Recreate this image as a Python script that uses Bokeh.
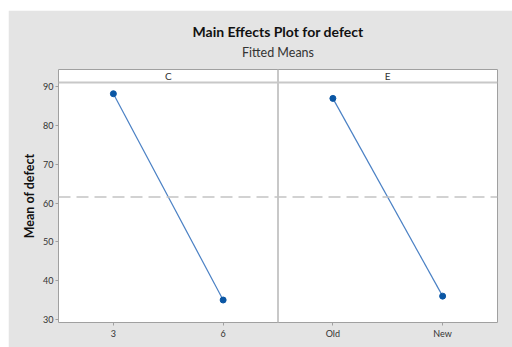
from bokeh.plotting import figure
from bokeh.layouts import column, row
from bokeh.models import FixedTicker, Label, Span, Spacer, Title
from bokeh.embed import file_html
from bokeh.resources import INLINE

# ---- data ----
factors = ["C", "E"]
levels_C = ["3", "6"]
means_C = [88.2, 35.0]
levels_E = ["Old", "New"]
means_E = [87.0, 36.0]
grand_mean = 61.55
y_ticks = [30, 40, 50, 60, 70, 80, 90]

FONT = "Lato"
BG = "#e4e4e4"

p = figure(frame_width=439, frame_height=253, output_backend="svg", toolbar_location=None,
           x_range=(0.5, 4.5), y_range=(29.2, 94.45), title=None,
           min_border_left=50, min_border_right=15, min_border_top=59, min_border_bottom=25)
p.background_fill_color = "white"
p.border_fill_color = BG
p.outline_line_color = "#a0a0a0"
p.grid.visible = False

panels = [(levels_C, means_C), (levels_E, means_E)]
tick_pos = []
overrides = {}
for i, (levs, ms) in enumerate(panels):
    xs = [1 + 2 * i + j for j in range(len(levs))]
    for x, lab in zip(xs, levs):
        tick_pos.append(x)
        overrides[x] = lab
    p.line(xs, ms, line_color="#4a80c4", line_width=1.2)
    p.scatter(xs, ms, size=6, color="#0a56a4")
    p.add_layout(Label(x=1.5 + 2 * i, y=92.8, text=factors[i], text_align="center",
                       text_baseline="middle", text_font=FONT, text_font_size="10px",
                       text_color="#333333"))

# panel divider and strip line
p.add_layout(Span(location=2.5, dimension="height", line_color="#c8c8c8", line_width=2))
p.add_layout(Span(location=91.1, dimension="width", line_color="#c8c8c8", line_width=2))
# grand mean reference line
p.add_layout(Span(location=grand_mean, dimension="width", line_color="#c4c4c4",
                  line_width=1.5, line_dash="12 6"))

p.xaxis.ticker = FixedTicker(ticks=tick_pos)
p.xaxis.major_label_overrides = overrides
p.yaxis.ticker = FixedTicker(ticks=y_ticks)
for ax in [p.xaxis[0], p.yaxis[0]]:
    ax.axis_line_color = None
    ax.major_tick_line_color = "#a0a0a0"
    ax.major_tick_out = 3
    ax.major_tick_in = 0
    ax.minor_tick_line_color = None
    ax.major_label_text_font = FONT
    ax.major_label_text_font_size = "9px"
    ax.major_label_text_color = "#333333"
    ax.major_label_standoff = 2

p.yaxis.axis_label = "Mean of defect"
p.yaxis.axis_label_text_font = FONT
p.yaxis.axis_label_text_font_size = "12.5px"
p.yaxis.axis_label_text_font_style = "bold"
p.yaxis.axis_label_text_color = "#111111"
p.yaxis.axis_label_standoff = 3

sub = Title(text="Fitted Means", align="center", text_font=FONT, text_font_size="12.5px",
            text_font_style="normal", text_color="#333333", standoff=19)
main = Title(text="Main Effects Plot for defect", align="center", text_font=FONT,
             text_font_size="14px", text_font_style="bold", text_color="#111111", standoff=-12)
p.add_layout(sub, "above")
p.add_layout(main, "above")

layout = column(Spacer(height=10), row(Spacer(width=8), p))
open("out.html", "w").write(file_html(layout, INLINE))
